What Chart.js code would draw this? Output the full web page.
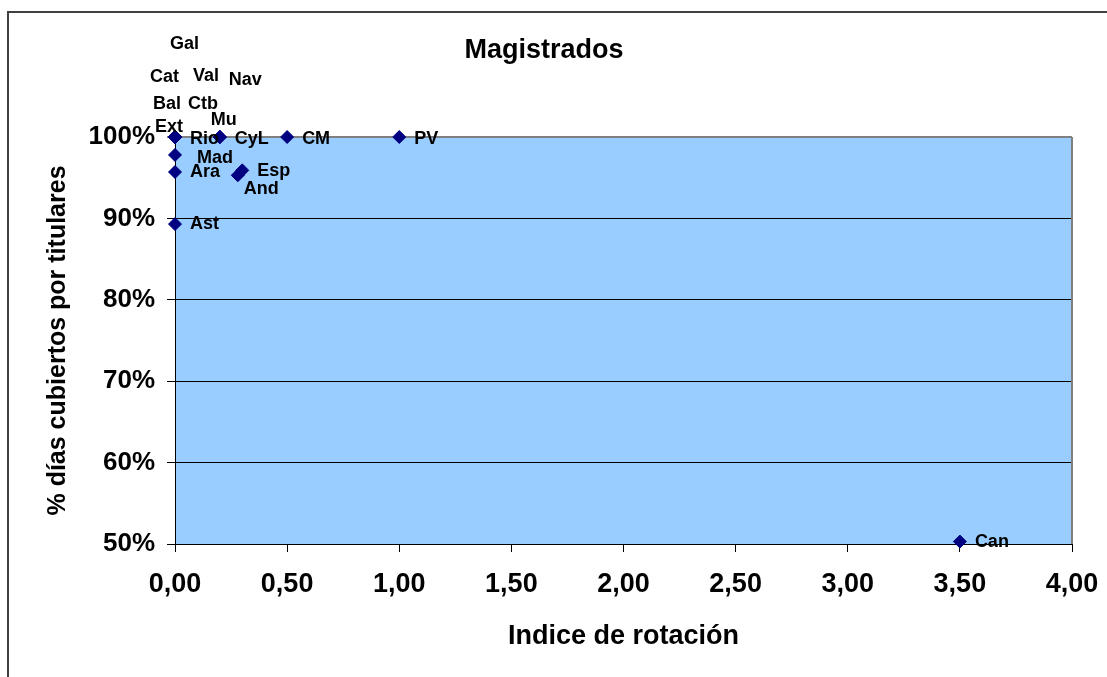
<!DOCTYPE html>
<html lang="es">
<head>
    <meta charset="UTF-8">
    <title>Magistrados</title>
    <script src="https://cdn.jsdelivr.net/npm/chart.js@4.4.0/dist/chart.umd.min.js"></script>
    <style>
        html, body {
            margin: 0;
            padding: 0;
            background: #fff;
        }

        .chart-box {
            position: relative;
            width: 1107px;
            height: 677px;
        }
    </style>
</head>
<body>
    <div class="chart-box">
        <canvas id="magChart"></canvas>
    </div>

    <script>
        // Data
        const regions = ['Gal', 'Cat', 'Val', 'Nav', 'Bal', 'Ctb', 'Mu', 'Ext', 'Rio', 'CyL', 'CM', 'PV', 'Mad', 'Ara', 'Esp', 'And', 'Ast', 'Can'];
        const rotation = [0, 0, 0, 0.2, 0, 0, 0.2, 0, 0, 0.2, 0.5, 1.0, 0, 0, 0.3, 0.28, 0, 3.5];
        const coverage = [100, 100, 100, 100, 100, 100, 100, 100, 100, 100, 100, 100, 97.8, 95.7, 95.9, 95.3, 89.3, 50.3];
        const xTickLabels = ['0,00', '0,50', '1,00', '1,50', '2,00', '2,50', '3,00', '3,50', '4,00'];
        const yTickLabels = ['50%', '60%', '70%', '80%', '90%', '100%'];

        const FONT = "'Liberation Sans', Arial, sans-serif";

        // where each label sits relative to its point (Excel moved the overlapping ones)
        const labelOffsets = {
            Gal: [-5, -93], Cat: [-25, -60], Val: [18, -61], Nav: [9, -57],
            Bal: [-22, -33], Ctb: [13, -33], Mu: [-9, -17], Ext: [-20, -10],
            Rio: [15, 2], CyL: [15, 2], CM: [15, 2], PV: [15, 2],
            Mad: [22, 3], Ara: [15, 0], Esp: [15, 1], And: [6, 14],
            Ast: [15, 0], Can: [15, 0]
        };

        const framePlugin = {
            id: 'frame',
            beforeDraw(chart) {
                const { ctx, chartArea: a } = chart;
                ctx.save();
                ctx.fillStyle = '#fff';
                ctx.fillRect(0, 0, chart.width, chart.height);
                // outer chart border
                ctx.strokeStyle = '#404040';
                ctx.lineWidth = 2;
                ctx.beginPath();
                ctx.moveTo(8, chart.height + 2);
                ctx.lineTo(8, 12);
                ctx.lineTo(chart.width + 2, 12);
                ctx.stroke();
                // plot area
                ctx.fillStyle = '#99CCFF';
                ctx.fillRect(a.left, a.top, a.right - a.left, a.bottom - a.top);
                ctx.restore();
            },
            afterDraw(chart) {
                const { ctx, chartArea: a } = chart;
                ctx.save();
                ctx.strokeStyle = '#808080';
                ctx.lineWidth = 2;
                ctx.beginPath();
                ctx.moveTo(a.right, a.top);
                ctx.lineTo(a.right, a.bottom);
                ctx.stroke();
                ctx.fillStyle = '#000';
                ctx.font = 'bold 27px ' + FONT;
                ctx.textAlign = 'center';
                ctx.textBaseline = 'middle';
                ctx.fillText('Magistrados', 544, 51);
                ctx.restore();
            }
        };

        const pointLabels = {
            id: 'pointLabels',
            afterDatasetsDraw(chart) {
                const { ctx } = chart;
                const meta = chart.getDatasetMeta(0);
                ctx.save();
                ctx.fillStyle = '#000';
                ctx.font = 'bold 18px ' + FONT;
                ctx.textAlign = 'left';
                ctx.textBaseline = 'middle';
                meta.data.forEach((pt, i) => {
                    const off = labelOffsets[regions[i]] || [15, 0];
                    ctx.fillText(regions[i], pt.x + off[0], pt.y + off[1]);
                });
                ctx.restore();
            }
        };

        new Chart(document.getElementById('magChart'), {
            type: 'scatter',
            data: {
                datasets: [{
                    label: 'Magistrados',
                    data: regions.map((r, i) => ({ x: rotation[i], y: coverage[i] })),
                    pointStyle: 'rectRot',
                    pointRadius: 6.5,
                    backgroundColor: '#000080',
                    borderColor: '#000080',
                    borderWidth: 1,
                    clip: false
                }]
            },
            options: {
                responsive: true,
                maintainAspectRatio: false,
                animation: false,
                layout: {
                    padding: { top: 137, right: 35, left: 0, bottom: 0 }
                },
                plugins: {
                    legend: { display: false },
                    tooltip: { enabled: false }
                },
                scales: {
                    x: {
                        type: 'linear',
                        min: 0,
                        max: 4,
                        ticks: {
                            stepSize: 0.5,
                            color: '#000',
                            padding: 16,
                            font: { family: FONT, size: 27, weight: 'bold' },
                            callback: (v, i) => xTickLabels[i]
                        },
                        grid: {
                            drawOnChartArea: false,
                            tickLength: 8,
                            color: '#000'
                        },
                        border: { color: '#000', width: 1 },
                        title: {
                            display: true,
                            text: 'Indice de rotación',
                            color: '#000',
                            font: { family: FONT, size: 27, weight: 'bold', lineHeight: 1 },
                            padding: { top: 0, bottom: 27 }
                        },
                        afterFit: s => {
                            s.height = 133;
                            s.paddingLeft = 0;
                            s.paddingRight = 0;
                        }
                    },
                    y: {
                        min: 50,
                        max: 100,
                        ticks: {
                            stepSize: 10,
                            color: '#000',
                            padding: 12,
                            font: { family: FONT, size: 26, weight: 'bold' },
                            callback: (v, i) => yTickLabels[i]
                        },
                        grid: {
                            tickLength: 8,
                            color: ctx => (ctx.tick && ctx.tick.value === 100 ? '#808080' : '#000'),
                            lineWidth: ctx => (ctx.tick && ctx.tick.value === 100 ? 2 : 1)
                        },
                        border: { color: '#000', width: 1 },
                        title: {
                            display: true,
                            text: '% días cubiertos por titulares',
                            color: '#000',
                            font: { family: FONT, size: 25, weight: 'bold', lineHeight: 1 },
                            padding: { top: 46, bottom: 0 }
                        },
                        afterFit: s => {
                            s.width = 175;
                            s.paddingTop = 0;
                            s.paddingBottom = 0;
                        }
                    }
                }
            },
            plugins: [framePlugin, pointLabels]
        });
    </script>
</body>
</html>
